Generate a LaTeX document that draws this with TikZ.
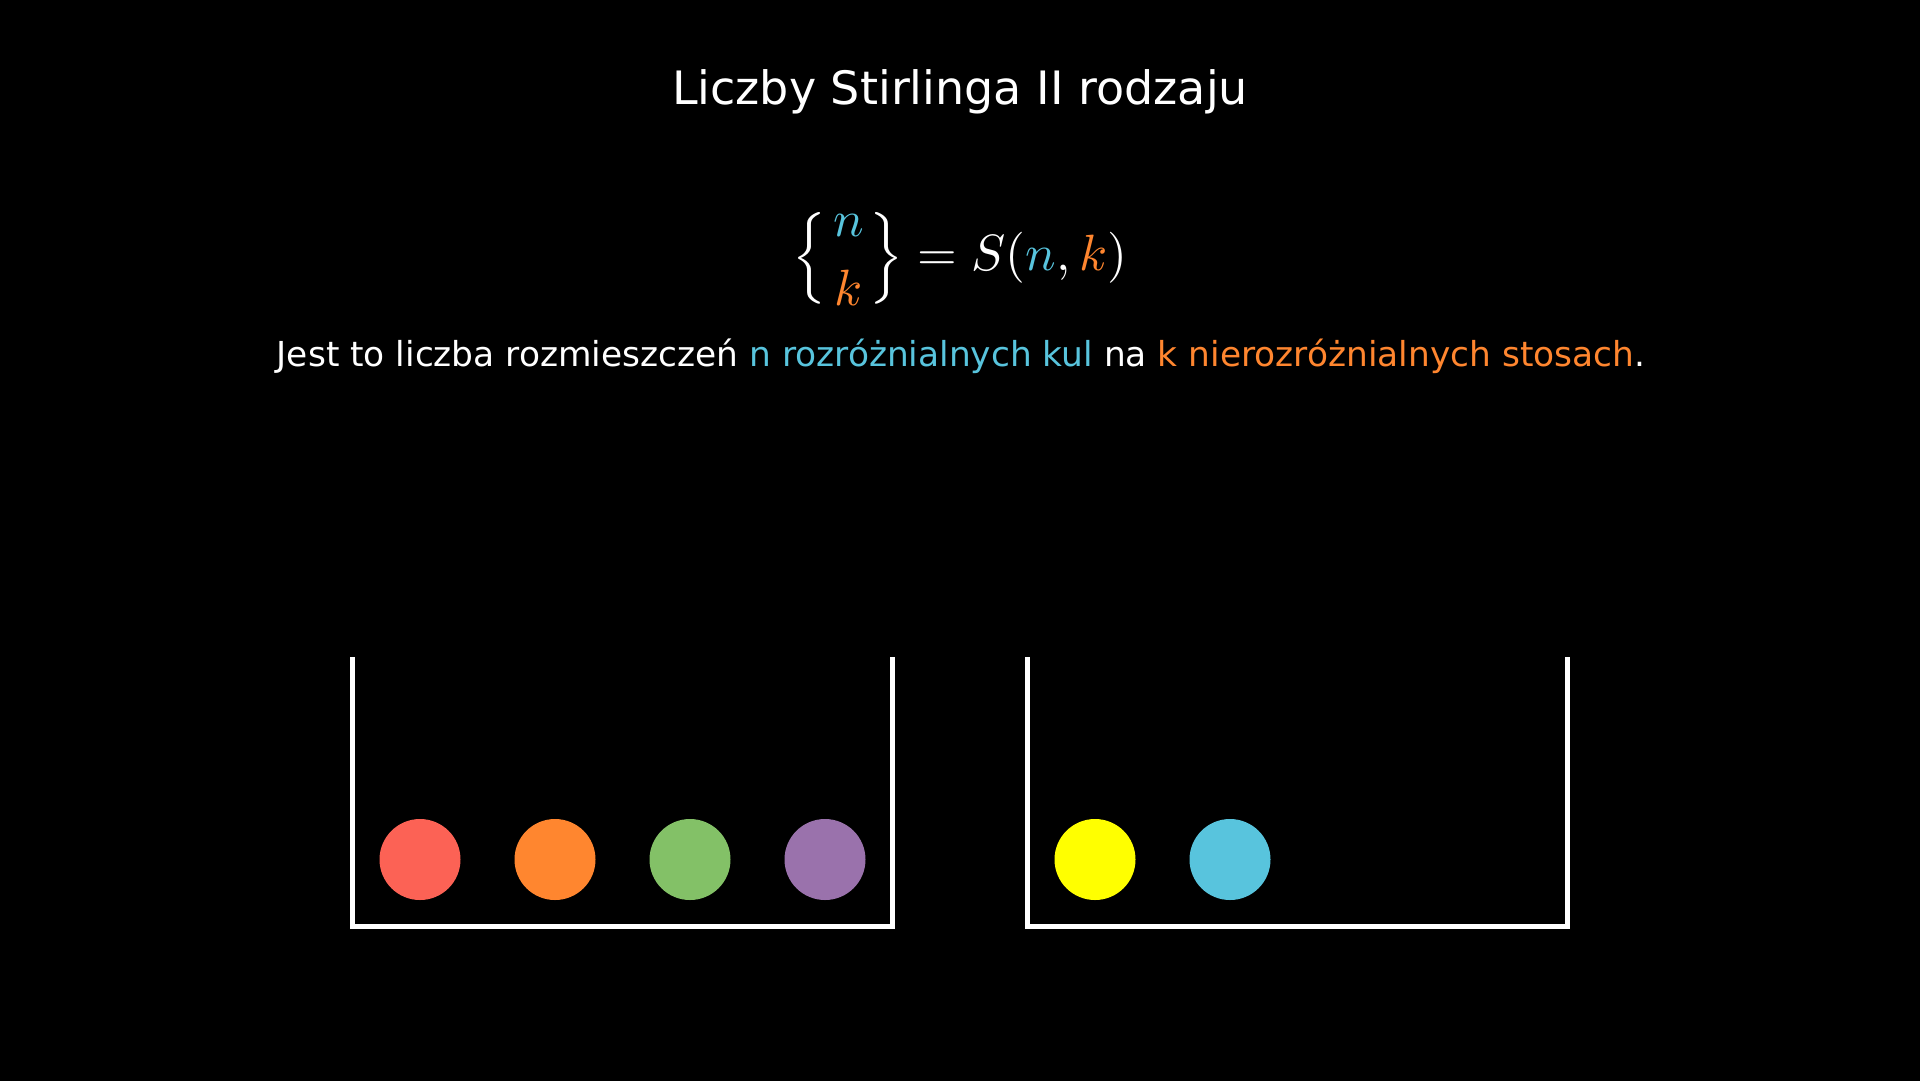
\documentclass[tikz,border=0pt]{standalone}
\usepackage{amsmath}
\usepackage{fontspec}
\setsansfont{DejaVu Sans}
\definecolor{mBlue}{HTML}{58C4DD}
\definecolor{mOrange}{HTML}{FF862F}
\definecolor{mRed}{HTML}{FC6255}
\definecolor{mGreen}{HTML}{83C167}
\definecolor{mPurple}{HTML}{9A72AC}
\definecolor{mYellow}{HTML}{FFFF00}
\begin{document}
\begin{tikzpicture}[x=1pt,y=-1pt,
  wall/.style={draw=white,line width=5pt},
  ball/.style={circle,minimum size=81pt,inner sep=0pt},
  label/.style={text=white,font=\sffamily,inner sep=0pt}]
\useasboundingbox (0,0) rectangle (1920,1080);
\fill[black] (-20,-20) rectangle (1940,1100);

% heading
\node[label,font=\sffamily\fontsize{46}{54}\selectfont,anchor=base] (title) at (960,104) {Liczby Stirlinga II rodzaju};

% Stirling number notation
\node[text=white,inner sep=0pt,scale=5.1] (formula) at (960,259)
  {$\displaystyle \Bigl\{\genfrac{}{}{0pt}{}{\color{mBlue}n}{\color{mOrange}k}\Bigr\} = S({\color{mBlue}n},{\color{mOrange}k})$};

% definition
\node[label,font=\sffamily\fontsize{34.4}{42}\selectfont,anchor=base] (def) at (961,366)
  {Jest to liczba rozmieszczeń \textcolor{mBlue}{n rozróżnialnych kul} na \textcolor{mOrange}{k nierozróżnialnych stosach}.};

% two piles
\coordinate (a1) at (352.5,657);
\coordinate (a2) at (352.5,926.5);
\coordinate (a3) at (892.5,926.5);
\coordinate (a4) at (892.5,657);
\coordinate (b1) at (1027.5,657);
\coordinate (b2) at (1027.5,926.5);
\coordinate (b3) at (1567.5,926.5);
\coordinate (b4) at (1567.5,657);
\draw[wall] (a1) -- (a2) -- (a3) -- (a4);
\draw[wall] (b1) -- (b2) -- (b3) -- (b4);

% balls
\node[ball,fill=mRed] (r) at (420,859.5) {};
\node[ball,fill=mOrange] (o) at (555,859.5) {};
\node[ball,fill=mGreen] (g) at (690,859.5) {};
\node[ball,fill=mPurple] (p) at (825,859.5) {};
\node[ball,fill=mYellow] (y) at (1095,859.5) {};
\node[ball,fill=mBlue] (c) at (1230,859.5) {};
\end{tikzpicture}
\end{document}
